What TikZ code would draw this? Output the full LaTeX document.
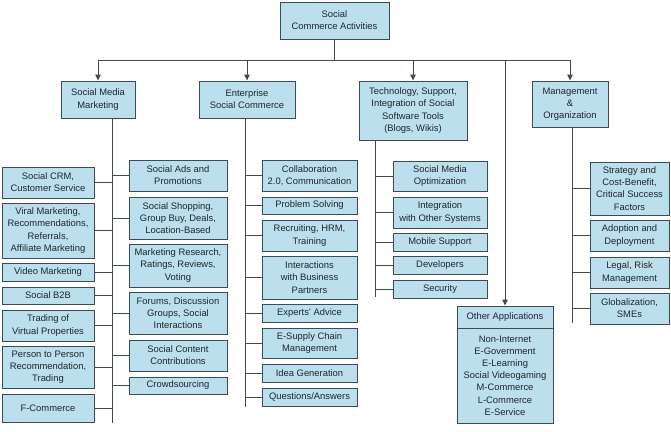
\documentclass[tikz,border=0pt]{standalone}
\usepackage{fontspec}
\setsansfont{Liberation Sans}
\usetikzlibrary{arrows.meta, positioning, calc}
\definecolor{ink}{HTML}{1E262C}
\definecolor{edge}{HTML}{3F4B53}
\definecolor{sky}{HTML}{BCDFEE}
\tikzset{
  font=\sffamily\fontsize{9.4}{12.2}\selectfont,
  >={Triangle[length=6pt, width=5.5pt]},
  %
  cbox/.style={draw=edge, line width=0.9pt, fill=sky, text=ink,
               align=center, inner sep=1pt},
  %
  link/.style={draw=edge, line width=0.9pt},
  down/.style={link, ->},
}
\newcommand{\cbox}[6]{% name, x1, x2, y1, y2, text
  \node[cbox, minimum width={#3-#2}, minimum height={#5-#4}]
    (#1) at ({(#2+#3)/2},{(#4+#5)/2}) {#6};
}

\begin{document}
\begin{tikzpicture}[x=1pt, y=-1pt]
  \useasboundingbox (0,0) rectangle (671,431);

  % --- top level ---------------------------------------------------------
  \cbox{root}{280}{389}{2}{39}{Social\\Commerce Activities}

  \cbox{smm}{61}{135}{81}{118}{Social Media\\Marketing}
  \cbox{esc}{199}{295}{81}{118}{Enterprise\\Social Commerce}
  \cbox{tech}{359}{467}{81}{140}{Technology, Support,\\Integration of Social\\Software Tools\\(Blogs, Wikis)}
  \cbox{mgmt}{532}{608}{81}{127}{Management\\\&\\Organization}

  \coordinate (busl) at (98,60);
  \coordinate (busr) at (570,60);
  \draw[link] (root.south) -- (root.south |- busl);
  \draw[link] (busl) -- (busr);
  \foreach \n in {smm,esc,tech,mgmt} { \draw[down] (\n.north |- busl) -- (\n.north); }

  % --- social media marketing --------------------------------------------
  \coordinate (smmfoot) at (112,423);
  \cbox{crm}{2}{94}{167}{198}{Social CRM,\\Customer Service}
  \cbox{viral}{2}{94}{203}{258}{Viral Marketing,\\Recommendations,\\Referrals,\\Affiliate Marketing}
  \cbox{video}{2}{94}{263}{281}{Video Marketing}
  \cbox{btob}{2}{94}{287}{304}{Social B2B}
  \cbox{trade}{2}{94}{310}{341}{Trading of\\Virtual Properties}
  \cbox{ptp}{2}{94}{346}{388}{Person to Person\\Recommendation,\\Trading}
  \cbox{fcom}{2}{94}{394}{422}{F-Commerce}

  \cbox{ads}{129}{227}{160}{191}{Social Ads and\\Promotions}
  \cbox{shop}{129}{227}{197}{239}{Social Shopping,\\Group Buy, Deals,\\Location-Based}
  \cbox{research}{129}{227}{244}{287}{Marketing Research,\\Ratings, Reviews,\\Voting}
  \cbox{forums}{129}{227}{292}{334}{Forums, Discussion\\Groups, Social\\Interactions}
  \cbox{content}{129}{227}{340}{371}{Social Content\\Contributions}
  \cbox{crowd}{129}{227}{377}{394}{Crowdsourcing}

  \draw[link] (smm.south -| smmfoot) -- (smmfoot);
  \foreach \b in {crm,viral,video,btob,trade,ptp,fcom} { \draw[link] (\b.east) -- (\b.east -| smmfoot); }
  \foreach \b in {ads,shop,research,forums,content,crowd} { \draw[link] (\b.west) -- (\b.west -| smmfoot); }

  % --- enterprise social commerce ----------------------------------------
  \coordinate (escfoot) at (245,407);
  \cbox{collab}{262}{357}{160}{191}{Collaboration\\2.0, Communication}
  \cbox{problem}{262}{357}{197}{214}{Problem Solving}
  \cbox{recruit}{262}{357}{220}{251}{Recruiting, HRM,\\Training}
  \cbox{partners}{262}{357}{256}{299}{Interactions\\with Business\\Partners}
  \cbox{experts}{262}{357}{304}{322}{Experts' Advice}
  \cbox{supply}{262}{357}{328}{358}{E-Supply Chain\\Management}
  \cbox{idea}{262}{357}{364}{382}{Idea Generation}
  \cbox{qa}{262}{357}{388}{406}{Questions/Answers}

  \draw[link] (esc.south -| escfoot) -- (escfoot);
  \foreach \b in {collab,problem,recruit,partners,experts,supply,idea,qa} { \draw[link] (\b.west) -- (\b.west -| escfoot); }

  % --- technology --------------------------------------------------------
  \coordinate (techfoot) at (375,297);
  \cbox{smo}{393}{487}{161}{191}{Social Media\\Optimization}
  \cbox{integ}{393}{487}{197}{228}{Integration\\with Other Systems}
  \cbox{mobile}{393}{487}{233}{251}{Mobile Support}
  \cbox{dev}{393}{487}{256}{274}{Developers}
  \cbox{sec}{393}{487}{280}{298}{Security}

  \draw[link] (tech.south -| techfoot) -- (techfoot);
  \foreach \b in {smo,integ,mobile,dev,sec} { \draw[link] (\b.west) -- (\b.west -| techfoot); }

  % --- other applications ------------------------------------------------
  \cbox{othertitle}{457}{553}{306}{328}{Other Applications}
  \cbox{otherlist}{457}{553}{328}{423}{Non-Internet\\E-Government\\E-Learning\\Social Videogaming\\M-Commerce\\L-Commerce\\E-Service}
  \draw[down] (othertitle.north |- busl) -- (othertitle.north);

  % --- management --------------------------------------------------------
  \coordinate (mgmtfoot) at (572,323);
  \cbox{strat}{590}{669}{162}{215}{Strategy and\\Cost-Benefit,\\Critical Success\\Factors}
  \cbox{adopt}{590}{669}{220}{251}{Adoption and\\Deployment}
  \cbox{legal}{590}{669}{257}{288}{Legal, Risk\\Management}
  \cbox{global}{590}{669}{293}{324}{Globalization,\\SMEs}

  \draw[link] (mgmt.south -| mgmtfoot) -- (mgmtfoot);
  \foreach \b in {strat,adopt,legal,global} { \draw[link] (\b.west) -- (\b.west -| mgmtfoot); }

\end{tikzpicture}
\end{document}
